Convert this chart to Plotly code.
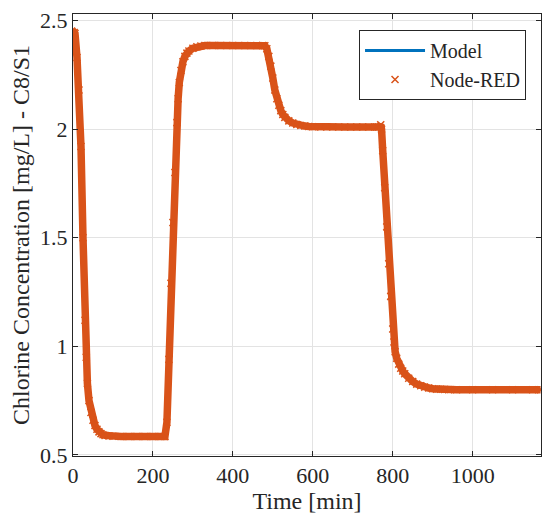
import plotly.graph_objects as go

blue = '#0072BD'
orange = '#D95319'
dark = '#262626'

# values (minutes, mg/L)
time_min = [0, 3, 5, 10, 15, 20, 25, 30, 33, 36, 40, 45, 50, 55, 60, 65, 70, 75, 80, 90,
            100, 120, 140, 160, 180, 200, 220, 230, 235, 240, 245, 250, 255, 260,
            263, 266, 270, 275, 280, 285, 290, 300, 310, 320, 330, 350, 370, 400, 430,
            460, 475, 480, 485, 490, 495, 500, 505, 510, 515, 520, 525, 530, 540,
            550, 560, 570, 580, 590, 600, 620, 650, 680, 710, 740, 760, 765, 770,
            772, 775, 780, 785, 790, 795, 800, 803, 806, 810, 815, 820, 825, 830, 840,
            850, 860, 870, 880, 890, 900, 910, 920, 930, 940, 960, 1000, 1050,
            1100, 1150, 1170]

model_conc = [2.44, 2.445, 2.44, 2.33, 2.18, 1.92, 1.50, 1.12, 0.95, 0.83, 0.75, 0.695,
              0.66, 0.635, 0.618, 0.606, 0.598, 0.593, 0.59, 0.587,
              0.586, 0.585, 0.585, 0.585, 0.585, 0.585, 0.585, 0.585, 0.65, 0.94,
              1.29, 1.57, 1.80, 2.03,
              2.14, 2.215, 2.27, 2.31, 2.335, 2.35, 2.36, 2.372, 2.379, 2.383, 2.385,
              2.385, 2.385, 2.385, 2.385,
              2.385, 2.385, 2.384, 2.37, 2.335, 2.29, 2.235, 2.18, 2.14, 2.11,
              2.085, 2.067, 2.054, 2.038,
              2.028, 2.021, 2.017, 2.014, 2.012, 2.011, 2.01, 2.01, 2.01, 2.01,
              2.01, 2.01, 2.01, 2.01,
              2.0, 1.90, 1.73, 1.55, 1.38, 1.23, 1.08, 1.02, 0.975, 0.945, 0.918,
              0.899, 0.886, 0.874, 0.853,
              0.838, 0.826, 0.818, 0.812, 0.808, 0.805, 0.803, 0.802, 0.801, 0.80,
              0.80, 0.80, 0.80,
              0.80, 0.80, 0.80]

# Node-RED readings lie on the model curve, with a small blip before the last drop
nodered_conc = list(model_conc)
nodered_conc[time_min.index(770)] = 2.02

x_ticks = [0, 200, 400, 600, 800, 1000]
y_ticks = [0.5, 1, 1.5, 2, 2.5]

fig = go.Figure()

fig.add_trace(go.Scatter(x=time_min, y=model_conc, mode='lines', name='Model',
                         line=dict(color=blue, width=3)))
# dense Node-RED markers merge into a thick band
fig.add_trace(go.Scatter(x=time_min, y=nodered_conc, mode='lines', showlegend=False,
                         hoverinfo='skip', line=dict(color=orange, width=7.5)))
fig.add_trace(go.Scatter(x=time_min, y=nodered_conc, mode='markers', name='Node-RED',
                         marker=dict(symbol='x-thin', size=7, color=orange,
                                     line=dict(color=orange, width=1.5))))

axis_style = dict(showline=True, linecolor=dark, linewidth=1, mirror='ticks',
                  ticks='inside', ticklen=5, tickcolor=dark, tickwidth=1,
                  showgrid=True, gridcolor='#e3e3e3', gridwidth=1, zeroline=False,
                  tickfont=dict(size=22, color=dark), ticklabeloverflow='allow')

fig.update_xaxes(range=[0, 1171], tickvals=x_ticks,
                 title=dict(text='Time [min]', font=dict(size=24, color=dark), standoff=0),
                 **axis_style)
fig.update_yaxes(range=[0.495, 2.53], tickvals=y_ticks,
                 title=dict(text='Chlorine Concentration [mg/L] - C8/S1',
                            font=dict(size=24, color=dark), standoff=10),
                 **axis_style)

# the page adds an 8px body margin, so the margins are shifted to compensate
fig.update_layout(
    width=550, height=526,
    margin=dict(l=65, r=17, t=0, b=78),
    paper_bgcolor='white', plot_bgcolor='white',
    font=dict(family='Liberation Serif', color=dark),
    legend=dict(x=0.968, y=0.964, xanchor='right', yanchor='top',
                bgcolor='white', bordercolor=dark, borderwidth=1, itemwidth=60,
                font=dict(size=20, color=dark), tracegroupgap=0),
)

fig.write_html("out.html")
